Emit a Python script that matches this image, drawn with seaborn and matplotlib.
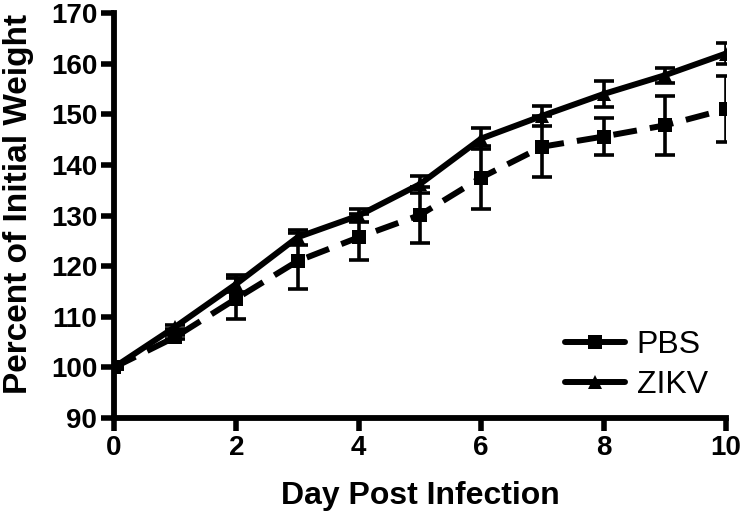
import matplotlib
matplotlib.use("Agg")
import matplotlib.pyplot as plt
import seaborn as sns
import pandas as pd
from matplotlib.lines import Line2D

days = [0, 1, 2, 3, 4, 5, 6, 7, 8, 9, 10]
pbs_mean = [100, 106, 113.6, 121, 125.7, 130.1, 137.5, 143.6, 145.6, 147.8, 151.0]
pbs_err = [0.3, 0.4, 4.1, 5.6, 4.5, 5.5, 6.2, 6.0, 3.7, 5.8, 6.5]
zikv_mean = [100, 108, 116.5, 125.7, 130.0, 136.2, 145.2, 149.7, 154.0, 157.7, 162.0]
zikv_err = [0.3, 0.4, 1.7, 1.5, 1.2, 1.7, 2.0, 2.0, 2.5, 1.5, 2.0]
groups = ["PBS", "ZIKV"]
xticks = [0, 2, 4, 6, 8, 10]
yticks = [90, 100, 110, 120, 130, 140, 150, 160, 170]

df = pd.DataFrame({
    "day": days + days,
    "value": pbs_mean + zikv_mean,
    "group": ["PBS"] * len(days) + ["ZIKV"] * len(days),
})

sns.set_style("ticks")
plt.rcParams["font.family"] = ["Liberation Sans", "DejaVu Sans"]
for k in ["text.color", "axes.labelcolor", "xtick.color", "ytick.color", "axes.edgecolor"]:
    plt.rcParams[k] = "black"

fig = plt.figure(figsize=(7.4, 5.15), dpi=100)
ax = fig.add_axes([114 / 740, (515 - 418) / 515, (726 - 114) / 740, (418 - 13) / 515])

sns.lineplot(data=df, x="day", y="value", hue="group", style="group",
             palette={"PBS": "black", "ZIKV": "black"},
             markers={"PBS": "s", "ZIKV": "^"},
             dashes={"PBS": (4, 2.2), "ZIKV": ""},
             linewidth=4.3, markersize=10, markeredgewidth=0,
             legend=False, ax=ax, zorder=3)

ax.errorbar(days, pbs_mean, yerr=pbs_err, fmt="none", ecolor="black",
            elinewidth=2.6, capsize=7, capthick=2.6, zorder=2)
ax.errorbar(days, zikv_mean, yerr=zikv_err, fmt="none", ecolor="black",
            elinewidth=2.6, capsize=7, capthick=2.6, zorder=2)

ax.set_xlim(0, 10)
ax.set_ylim(90, 170)
ax.set_xticks(xticks)
ax.set_yticks(yticks)
ax.set_xticklabels([str(t) for t in xticks], fontsize=20, fontweight="bold")
ax.set_yticklabels([str(t) for t in yticks], fontsize=20, fontweight="bold")
ax.tick_params(axis="both", direction="out", length=9.5, width=4, pad=2.5, color="black")
ax.tick_params(axis="x", pad=3)

for s in ["top", "right"]:
    ax.spines[s].set_visible(False)
for s in ["left", "bottom"]:
    ax.spines[s].set_linewidth(4.2)
    ax.spines[s].set_color("black")

ax.set_xlabel("Day Post Infection", fontsize=23, fontweight="bold", labelpad=14)
ax.set_ylabel("Percent of Initial Weight", fontsize=24, fontweight="bold")
ax.yaxis.set_label_coords(-0.131, 0.528)

handles = [
    Line2D([], [], color="black", lw=4.3, marker="s", markersize=10, markeredgewidth=0),
    Line2D([], [], color="black", lw=4.3, marker="^", markersize=10, markeredgewidth=0),
]
leg = ax.legend(handles, groups, loc="lower right", bbox_to_anchor=(0.97, 0.045),
                borderaxespad=0, borderpad=0,
                frameon=False, handlelength=1.9, handletextpad=0.35, labelspacing=0.3,
                prop={"family": ["Liberation Sans", "DejaVu Sans"], "size": 23})

fig.savefig("out.png", dpi=100)
